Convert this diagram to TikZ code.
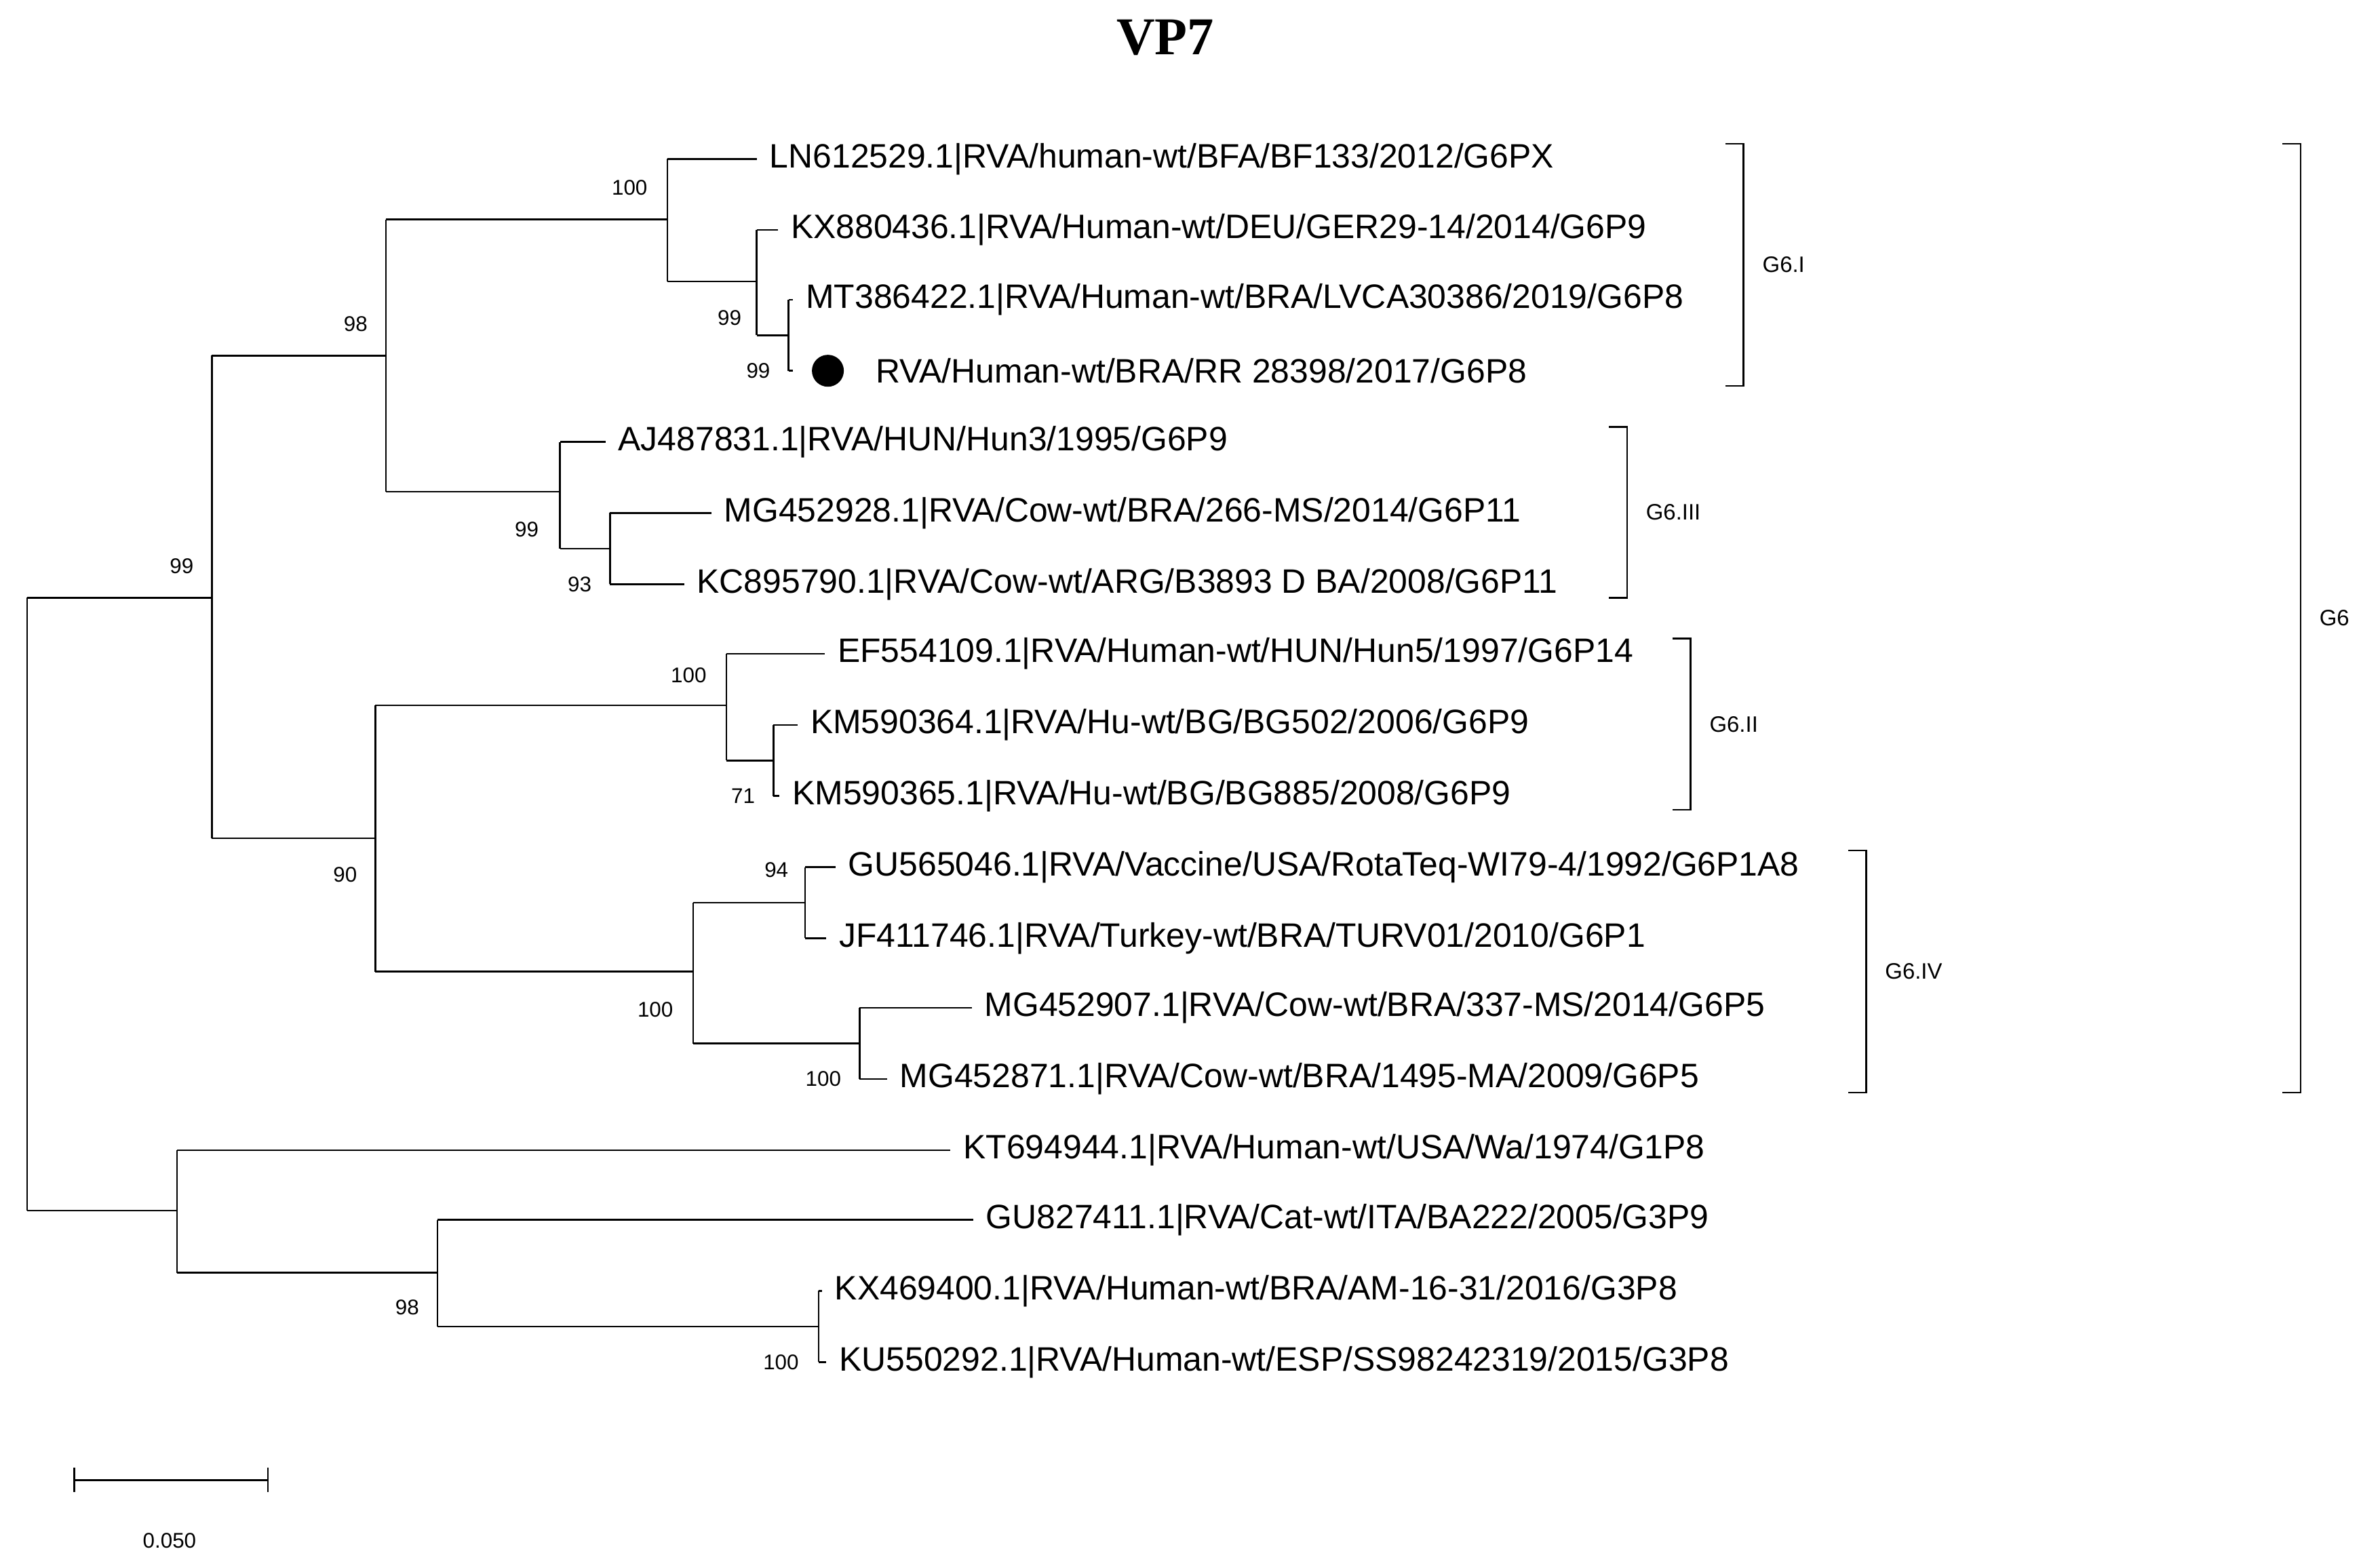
\documentclass[tikz,border=0pt]{standalone}
\usepackage{fontspec}
\setmainfont{Liberation Sans}
\begin{document}
\begin{tikzpicture}[x=0.05cm,y=-0.05cm,line width=1.6pt,
 leaf/.style={anchor=west,inner sep=0pt,font=\fontsize{31.8}{33}\selectfont},
 bs/.style={inner sep=0pt,font=\fontsize{20}{22}\selectfont},
 clade/.style={anchor=west,inner sep=0pt,font=\fontsize{21}{22}\selectfont}]
\useasboundingbox (0,0) rectangle (1560,1035.7);
\node[font=\fontsize{50}{52}\selectfont\bfseries\rmfamily\fontspec{Liberation Serif}] (title) at (770,25) {VP7};
\foreach \n/\xs/\xe/\y/\t in {
 l1/441/500/105/{LN612529.1|RVA/human-wt/BFA/BF133/2012/G6PX},
 l2/500/514/152/{KX880436.1|RVA/Human-wt/DEU/GER29-14/2014/G6P9},
 l3/521/524/198/{MT386422.1|RVA/Human-wt/BRA/LVCA30386/2019/G6P8},
 l5/370/400/292/{AJ487831.1|RVA/HUN/Hun3/1995/G6P9},
 l6/403/470/339/{MG452928.1|RVA/Cow-wt/BRA/266-MS/2014/G6P11},
 l7/403/452/386/{KC895790.1|RVA/Cow-wt/ARG/B3893 D BA/2008/G6P11},
 l8/480/545/432/{EF554109.1|RVA/Human-wt/HUN/Hun5/1997/G6P14},
 l9/511/527/479/{KM590364.1|RVA/Hu-wt/BG/BG502/2006/G6P9},
 l10/511/515/526/{KM590365.1|RVA/Hu-wt/BG/BG885/2008/G6P9},
 l11/532/552/573/{GU565046.1|RVA/Vaccine/USA/RotaTeq-WI79-4/1992/G6P1A8},
 l12/532/546/620/{JF411746.1|RVA/Turkey-wt/BRA/TURV01/2010/G6P1},
 l13/568/642/666/{MG452907.1|RVA/Cow-wt/BRA/337-MS/2014/G6P5},
 l14/568/586/713/{MG452871.1|RVA/Cow-wt/BRA/1495-MA/2009/G6P5},
 l15/117/628/760/{KT694944.1|RVA/Human-wt/USA/Wa/1974/G1P8},
 l16/289/643/806/{GU827411.1|RVA/Cat-wt/ITA/BA222/2005/G3P9},
 l17/541/543/853/{KX469400.1|RVA/Human-wt/BRA/AM-16-31/2016/G3P8},
 l18/541/546/900/{KU550292.1|RVA/Human-wt/ESP/SS98242319/2015/G3P8}}{
 \coordinate (\n s) at (\xs,\y);
 \coordinate (\n e) at (\xe,\y);
 \node[leaf] (\n) at (\xe+8,\y) {\t};
 \draw (\n s) -- (\n e);
}
\coordinate (l4s) at (521,245);
\coordinate (l4e) at (524,245);
\node[leaf] (l4) at (578,245) {RVA/Human-wt/BRA/RR 28398/2017/G6P8};
\draw (l4s) -- (l4e);
\node[circle,fill=black,minimum size=30pt,inner sep=0pt] (dot) at (547,245) {};
\draw (l3s) -- (l4s);
\draw (500,221.5) -- (521,221.5);
\draw (l2s) -- (500,221.5);
\draw (441,186) -- (500,186); \draw (l1s) -- (441,186);
\draw (255,145) -- (441,145);
\draw (403,362.5) -- (370,362.5); \draw (l6s) -- (l7s);
\draw (l5s) -- (370,362.5);
\draw (255,325) -- (370,325);
\draw (255,145) -- (255,325);
\draw (140,235) -- (255,235);
\draw (l9s) -- (l10s); \draw (480,502.5) -- (511,502.5);
\draw (l8s) -- (480,502.5);
\draw (248,466) -- (480,466);
\draw (l11s) -- (l12s); \draw (458,596.5) -- (532,596.5);
\draw (l13s) -- (l14s); \draw (458,689.5) -- (568,689.5);
\draw (458,596.5) -- (458,689.5);
\draw (248,642) -- (458,642);
\draw (248,466) -- (248,642);
\draw (140,235) -- (140,554); \draw (140,554) -- (248,554);
\draw (18,395) -- (140,395);
\draw (l17s) -- (l18s); \draw (289,876.5) -- (541,876.5);
\draw (l16s) -- (289,876.5);
\draw (117,841) -- (289,841);
\draw (l15s) -- (117,841);
\draw (18,800) -- (117,800);
\draw (18,395) -- (18,800);
\foreach \n/\x/\y/\t in {b1/416/124/100,b2/482/210/99,b3/501/245/99,b4/235/214/98,b5/348/350/99,b6/383/386/93,b7/120/374/99,b8/455/446/100,b9/491/526/71,b10/228/578/90,b11/513/575/94,b12/433/667/100,b13/544/713/100,b14/269/864/98,b15/516/900/100}
 \node[bs] (\n) at (\x,\y) {\t};
\foreach \n/\x/\ya/\yb/\lx/\t in {c1/1152/95/255/1164/G6.I,c2/1075/282/395/1087/G6.III,c3/1117/422/535/1129/G6.II,c4/1233/562/722/1245/G6.IV,c5/1520/95/722/1532/G6}{
 \draw (\x-12,\ya) -- (\x,\ya) -- (\x,\yb) -- (\x-12,\yb);
 \node[clade] (\n) at (\lx,{(\ya+\yb)/2}) {\t};
}
\coordinate (sa) at (49,978); \coordinate (sb) at (177,978);
\draw (sa) -- (sb);
\draw (49,970) -- (49,986); \draw (177,970) -- (177,986);
\node[bs] (scale) at (112,1018) {0.050};
\end{tikzpicture}
\end{document}
